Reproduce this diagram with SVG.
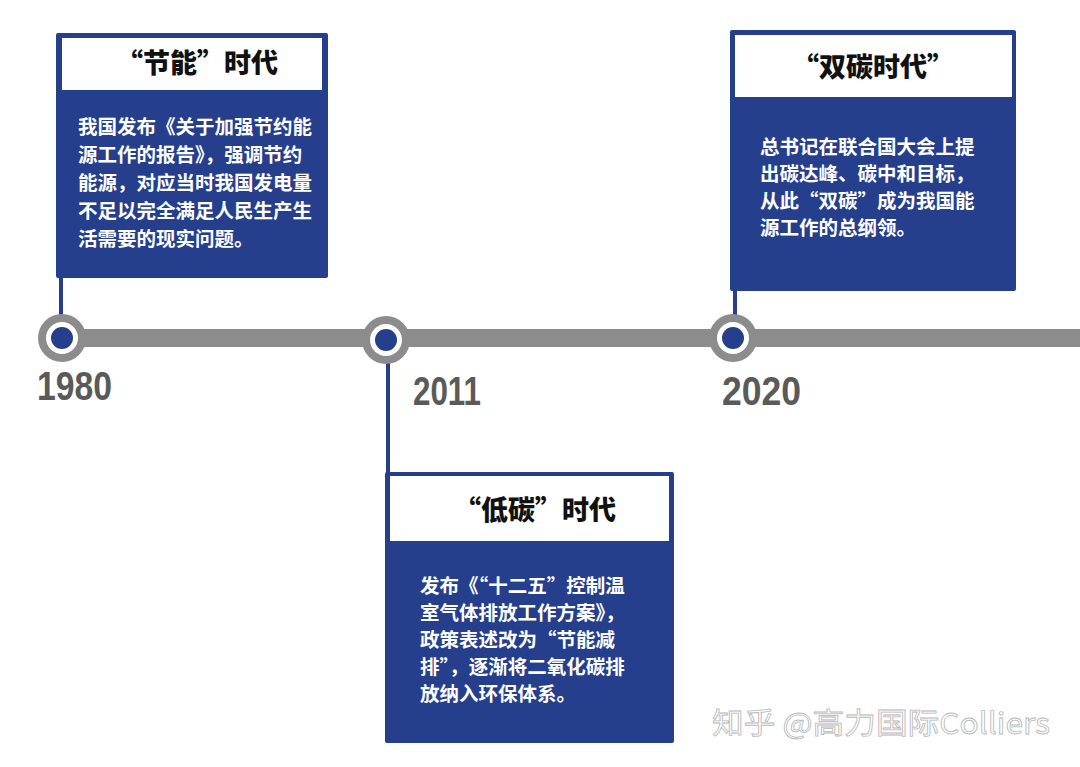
<svg xmlns="http://www.w3.org/2000/svg" width="1080" height="767" viewBox="0 0 1080 767">
<style>
.box{fill:#263f8c}
.hdr{fill:#fff}
.ttl{font-family:"Noto Sans CJK SC",sans-serif;font-weight:900;font-size:27px;fill:#111;text-anchor:middle}
.body{font-family:"Noto Sans CJK SC",sans-serif;font-weight:700;font-size:19.5px;fill:#fff}
.yr{font-family:"Liberation Sans",sans-serif;font-weight:700;font-size:40px;fill:#5a5a5a}
.stem{stroke:#263f8c;stroke-width:4}
</style>
<rect width="1080" height="767" fill="#fff"/>
<g id="connectors">
<rect x="60" y="329" width="1020" height="18" fill="#8c8c8c"/>
<line class="stem" x1="61" y1="276" x2="61" y2="338"/>
<line class="stem" x1="388" y1="341" x2="388" y2="474"/>
<line class="stem" x1="735" y1="289" x2="735" y2="338"/>
</g>
<g id="m1980"><circle cx="62" cy="338" r="24" fill="#8c8c8c"/><circle cx="62" cy="338" r="16" fill="#fff"/><circle cx="62" cy="338" r="11" fill="#263f8c"/>
<text x="37" y="400" class="yr" textLength="75" lengthAdjust="spacingAndGlyphs">1980</text></g>
<g id="m2011"><circle cx="386" cy="340" r="24" fill="#8c8c8c"/><circle cx="386" cy="340" r="16" fill="#fff"/><circle cx="386" cy="340" r="11" fill="#263f8c"/>
<text x="413" y="405" class="yr" textLength="68" lengthAdjust="spacingAndGlyphs">2011</text></g>
<g id="m2020"><circle cx="733" cy="338" r="24" fill="#8c8c8c"/><circle cx="733" cy="338" r="16" fill="#fff"/><circle cx="733" cy="338" r="11" fill="#263f8c"/>
<text x="722" y="405" class="yr" textLength="79" lengthAdjust="spacingAndGlyphs">2020</text></g>
<g id="box1">
<rect class="box" x="56" y="33" width="272" height="245" rx="2"/>
<rect class="hdr" x="62" y="38" width="260" height="52"/>
<text class="ttl" x="197" y="73">“节能”时代</text>
<text class="body"><tspan x="78" y="134">我国发布《关于加强节约能</tspan><tspan x="78" y="162">源工作的报告》，强调节约</tspan><tspan x="78" y="190">能源，对应当时我国发电量</tspan><tspan x="78" y="218">不足以完全满足人民生产生</tspan><tspan x="78" y="246">活需要的现实问题。</tspan></text>
</g>
<g id="box2">
<rect class="box" x="385" y="472" width="289" height="271" rx="2"/>
<rect class="hdr" x="390" y="476" width="279" height="65"/>
<text class="ttl" x="535" y="520">“低碳”时代</text>
<text class="body"><tspan x="420" y="593">发布《“十二五”控制温</tspan><tspan x="420" y="620">室气体排放工作方案》，</tspan><tspan x="420" y="647">政策表述改为“节能减</tspan><tspan x="420" y="674">排”，逐渐将二氧化碳排</tspan><tspan x="420" y="701">放纳入环保体系。</tspan></text>
</g>
<g id="box3">
<rect class="box" x="730" y="30" width="286" height="261" rx="2"/>
<rect class="hdr" x="735" y="35" width="277" height="62"/>
<text class="ttl" x="873" y="77">“双碳时代”</text>
<text class="body"><tspan x="760" y="154">总书记在联合国大会上提</tspan><tspan x="760" y="181">出碳达峰、碳中和目标，</tspan><tspan x="760" y="208">从此“双碳”成为我国能</tspan><tspan x="760" y="235">源工作的总纲领。</tspan></text>
</g>
<text x="712" y="734" font-family="Noto Sans CJK SC,sans-serif" font-size="29" fill="#fff" stroke="#b8b8b8" stroke-width="0.8" textLength="338" lengthAdjust="spacingAndGlyphs">知乎 @高力国际Colliers</text>
</svg>
